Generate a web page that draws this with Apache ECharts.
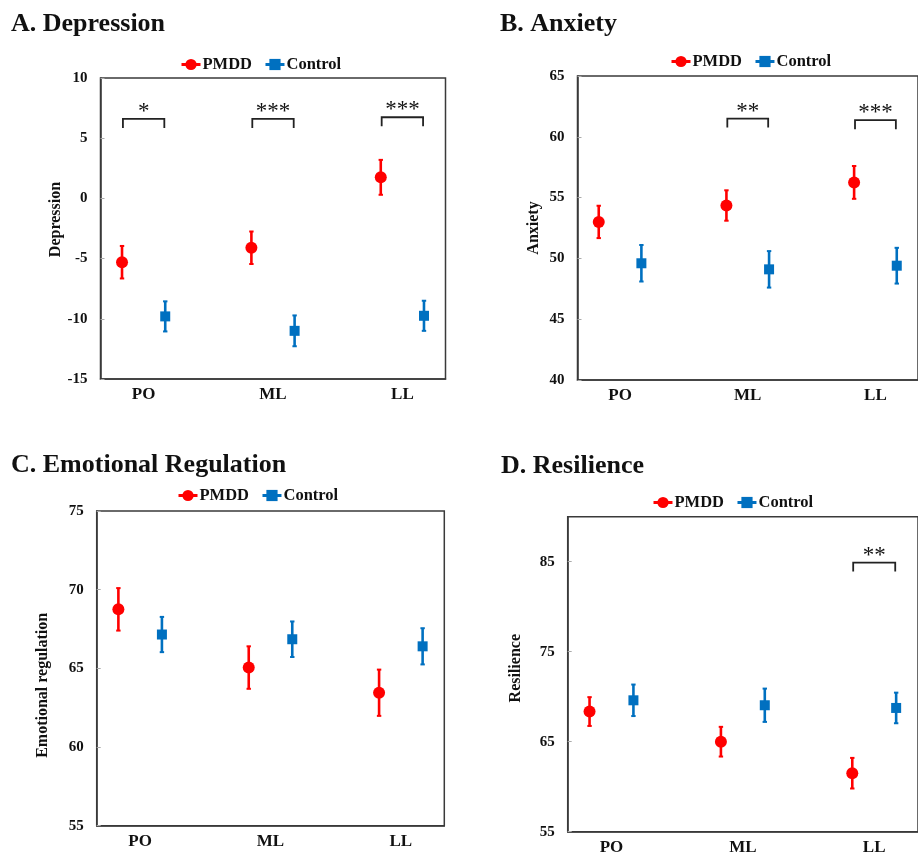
<!DOCTYPE html>
<html><head><meta charset="utf-8">
<script src="https://cdn.jsdelivr.net/npm/echarts@6/dist/echarts.min.js"></script>
<style>html,body{margin:0;padding:0;background:#fff}#c{width:918px;height:856px}</style>
</head><body><div id="c"></div>
<script>
// ---------- data ----------
const categories = ['PO', 'ML', 'LL'];
const groups = ['PMDD', 'Control'];
const panelTitles = ['A. Depression', 'B. Anxiety', 'C. Emotional Regulation', 'D. Resilience'];
const yNames = ['Depression', 'Anxiety', 'Emotional regulation', 'Resilience'];

const depressionPMDD = [-5.3, -4.1, 1.75];
const depressionPMDDErr = [1.35, 1.35, 1.45];
const depressionControl = [-9.8, -11.0, -9.75];
const depressionControlErr = [1.25, 1.28, 1.25];

const anxietyPMDD = [53.0, 54.35, 56.25];
const anxietyPMDDErr = [1.33, 1.25, 1.35];
const anxietyControl = [49.6, 49.1, 49.4];
const anxietyControlErr = [1.5, 1.5, 1.47];

const emotionPMDD = [68.75, 65.05, 63.45];
const emotionPMDDErr = [1.35, 1.35, 1.47];
const emotionControl = [67.15, 66.85, 66.4];
const emotionControlErr = [1.12, 1.13, 1.15];

const resiliencePMDD = [68.35, 65.0, 61.5];
const resiliencePMDDErr = [1.6, 1.65, 1.7];
const resilienceControl = [69.6, 69.05, 68.75];
const resilienceControlErr = [1.75, 1.85, 1.7];

// y-axis ranges [min, max, interval]
const depressionAxis = [-15, 10, 5];
const anxietyAxis = [40, 65, 5];
const emotionAxis = [55, 75, 5];
const resilienceAxis = [55, 90, 10];

// significance brackets: [category index (1-based), bracket height value]
const depressionSig = [[1, 6.6], [2, 6.6], [3, 6.74]];
const depressionSigLabels = ['*', '***', '***'];
const anxietySig = [[2, 61.5], [3, 61.37]];
const anxietySigLabels = ['**', '***'];
const emotionSig = [];
const emotionSigLabels = [];
const resilienceSig = [[3, 84.9]];
const resilienceSigLabels = ['**'];

// ---------- build ----------
const panels = [
  {pm: depressionPMDD, pmE: depressionPMDDErr, ct: depressionControl, ctE: depressionControlErr, ax: depressionAxis, sig: depressionSig, sigL: depressionSigLabels},
  {pm: anxietyPMDD, pmE: anxietyPMDDErr, ct: anxietyControl, ctE: anxietyControlErr, ax: anxietyAxis, sig: anxietySig, sigL: anxietySigLabels},
  {pm: emotionPMDD, pmE: emotionPMDDErr, ct: emotionControl, ctE: emotionControlErr, ax: emotionAxis, sig: emotionSig, sigL: emotionSigLabels},
  {pm: resiliencePMDD, pmE: resiliencePMDDErr, ct: resilienceControl, ctE: resilienceControlErr, ax: resilienceAxis, sig: resilienceSig, sigL: resilienceSigLabels}
];

// layout (pixels)
const grids = [
  {left: 100.5, top: 78, width: 345, height: 301},
  {left: 577.5, top: 76, width: 347, height: 304},
  {left: 96.7, top: 511, width: 347.6, height: 314.7},
  {left: 567.7, top: 516.7, width: 362, height: 315}
];
const titlePos = [[11, 11], [500, 11], [11, 452], [501, 453]];
const legendPos = [[180, 56], [670, 53], [177, 487], [652, 494]];
const nameGaps = [36, 36, 46, 44];
const namePads = [[0, 0, 0, 18], [0, 0, 0, 0], [0, 34, 0, 0], [0, 0, 0, 12]];

const FONT = 'Liberation Serif';
const RED = '#ff0000';
const BLUE = '#0070c0';
const AXIS = '#3a3a3a';
const OFF = 0.167;

function errRender(params, api) {
  const x = api.value(0), y = api.value(1), e = api.value(2);
  const t = api.coord([x, y + e]), b = api.coord([x, y - e]);
  const color = api.visual('color');
  const cap = 2.2;
  return {type: 'group', children: [
    {type: 'line', shape: {x1: t[0], y1: t[1], x2: b[0], y2: b[1]}, style: {stroke: color, lineWidth: 2.6}},
    {type: 'line', shape: {x1: t[0] - cap, y1: t[1], x2: t[0] + cap, y2: t[1]}, style: {stroke: color, lineWidth: 2}},
    {type: 'line', shape: {x1: b[0] - cap, y1: b[1], x2: b[0] + cap, y2: b[1]}, style: {stroke: color, lineWidth: 2}}
  ]};
}
function makeBracketRender(labels) {
  return function (params, api) {
    const c = api.value(0), y = api.value(1);
    const l = api.coord([c - 0.16, y]), r = api.coord([c + 0.16, y]);
    const leg = 9;
    return {type: 'group', children: [
      {type: 'polyline', shape: {points: [[l[0], l[1] + leg], [l[0], l[1]], [r[0], r[1]], [r[0], r[1] + leg]]},
        style: {stroke: '#222', lineWidth: 1.8, fill: null}},
      {type: 'text', x: (l[0] + r[0]) / 2, y: l[1] + 4.5,
        style: {text: labels[params.dataIndex], fill: '#111', font: 'normal 23px "' + FONT + '"', align: 'center', verticalAlign: 'bottom'}}
    ]};
  };
}

const option = {
  backgroundColor: '#fff',
  animation: false,
  title: panelTitles.map((t, i) => ({
    text: t, left: titlePos[i][0], top: titlePos[i][1], padding: 0,
    textStyle: {fontFamily: FONT, fontSize: 26, fontWeight: 'bold', color: '#111'}
  })),
  legend: panels.map((p, i) => ({
    data: groups, left: legendPos[i][0], top: legendPos[i][1], padding: 0,
    itemWidth: 19, itemHeight: 14, itemGap: 12,
    lineStyle: {width: 3, opacity: 1},
    textStyle: {fontFamily: FONT, fontSize: 16.5, fontWeight: 'bold', color: '#111', padding: [0, 0, 0, -3]},
    selectedMode: false
  })),
  grid: grids.map(g => ({left: g.left, top: g.top, width: g.width, height: g.height, show: true,
    borderColor: AXIS, borderWidth: 1.5, containLabel: false})),
  xAxis: panels.map((p, i) => ({
    type: 'value', gridIndex: i, min: 2 / 3, max: 10 / 3,
    axisLine: {show: true, onZero: false, lineStyle: {color: AXIS, width: 1.5}},
    axisTick: {show: false}, splitLine: {show: false},
    axisLabel: {customValues: [1, 2, 3], formatter: v => categories[Math.round(v) - 1] || '',
      fontFamily: FONT, fontSize: 17, fontWeight: 'bold', color: '#111', margin: 7}
  })),
  yAxis: panels.map((p, i) => ({
    type: 'value', gridIndex: i, min: p.ax[0], max: p.ax[1], interval: p.ax[2],
    name: yNames[i], nameLocation: 'middle', nameGap: nameGaps[i],
    nameTextStyle: {fontFamily: FONT, fontSize: 16, fontWeight: 'bold', color: '#111', padding: namePads[i]},
    axisLine: {show: true, onZero: false, lineStyle: {color: AXIS, width: 1.5}},
    axisTick: {show: true, inside: true, length: 4, lineStyle: {color: '#aaa', width: 1}},
    splitLine: {show: false},
    axisLabel: {showMaxLabel: i === 3 ? false : true, fontFamily: FONT, fontSize: 15, fontWeight: 'bold', color: '#111', margin: 13}
  })),
  series: []
};

panels.forEach((p, i) => {
  const xs = categories.map((c, k) => k + 1);
  option.series.push({
    name: 'PMDD', type: 'line', xAxisIndex: i, yAxisIndex: i,
    data: xs.map((x, k) => [x - OFF, p.pm[k]]),
    symbol: 'circle', symbolSize: 12, lineStyle: {opacity: 0, width: 3},
    itemStyle: {color: RED}, z: 4, silent: true
  });
  option.series.push({
    name: 'Control', type: 'line', xAxisIndex: i, yAxisIndex: i,
    data: xs.map((x, k) => [x + OFF, p.ct[k]]),
    symbol: 'rect', symbolSize: 10, lineStyle: {opacity: 0, width: 3},
    itemStyle: {color: BLUE}, z: 4, silent: true
  });
  option.series.push({
    name: 'PMDD SE', type: 'custom', xAxisIndex: i, yAxisIndex: i,
    data: xs.map((x, k) => [x - OFF, p.pm[k], p.pmE[k]]),
    renderItem: errRender, itemStyle: {color: RED}, z: 3, silent: true,
    encode: {x: 0, y: 1}
  });
  option.series.push({
    name: 'Control SE', type: 'custom', xAxisIndex: i, yAxisIndex: i,
    data: xs.map((x, k) => [x + OFF, p.ct[k], p.ctE[k]]),
    renderItem: errRender, itemStyle: {color: BLUE}, z: 3, silent: true,
    encode: {x: 0, y: 1}
  });
  if (p.sig.length) {
    option.series.push({
      name: 'sig' + i, type: 'custom', xAxisIndex: i, yAxisIndex: i,
      data: p.sig, renderItem: makeBracketRender(p.sigL), z: 5, silent: true,
      encode: {x: 0, y: 1}
    });
  }
});

const chart = echarts.init(document.getElementById('c'), null, {renderer: 'canvas'});
chart.setOption(option);
</script>
</body></html>
